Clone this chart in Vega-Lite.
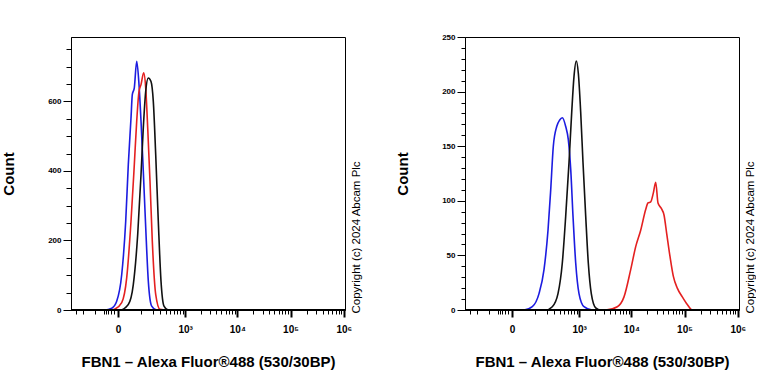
{
  "$schema": "https://vega.github.io/schema/vega-lite/v6.json",
  "padding": {"left": 0, "top": 32, "right": 0, "bottom": 0},
  "background": "white",
  "config": {
    "font": "Liberation Sans",
    "view": {"stroke": "black", "strokeWidth": 1},
    "concat": {"spacing": 32},
    "axis": {"domainColor": "black", "tickColor": "black", "labelColor": "black", "titleColor": "black", "grid": false, "labelFont": "Liberation Sans", "titleFont": "Liberation Sans"}
  },
  "datasets": {
    "left": [
      {"series": "blue", "x": -384, "count": 0}, {"series": "blue", "x": -44, "count": 0}, {"series": "blue", "x": -18, "count": 5}, {"series": "blue", "x": -3.4, "count": 25}, {"series": "blue", "x": 10.1, "count": 102}, {"series": "blue", "x": 22.9, "count": 255}, {"series": "blue", "x": 32.5, "count": 418}, {"series": "blue", "x": 43.7, "count": 552}, {"series": "blue", "x": 49.6, "count": 619}, {"series": "blue", "x": 59.3, "count": 639}, {"series": "blue", "x": 72.1, "count": 715}, {"series": "blue", "x": 85.7, "count": 648}, {"series": "blue", "x": 98.7, "count": 543}, {"series": "blue", "x": 115, "count": 399}, {"series": "blue", "x": 134, "count": 237}, {"series": "blue", "x": 156.8, "count": 83}, {"series": "blue", "x": 190.7, "count": 11}, {"series": "blue", "x": 250.7, "count": 0}, {"series": "blue", "x": 1053000, "count": 0},
      {"series": "red", "x": -384, "count": 0}, {"series": "red", "x": -20, "count": 0}, {"series": "red", "x": -8, "count": 3}, {"series": "red", "x": 10.1, "count": 21}, {"series": "red", "x": 26.5, "count": 93}, {"series": "red", "x": 43.7, "count": 255}, {"series": "red", "x": 59.3, "count": 418}, {"series": "red", "x": 72.1, "count": 543}, {"series": "red", "x": 85.7, "count": 629}, {"series": "red", "x": 98.7, "count": 648}, {"series": "red", "x": 118, "count": 682}, {"series": "red", "x": 134, "count": 638}, {"series": "red", "x": 151.2, "count": 524}, {"series": "red", "x": 173.1, "count": 370}, {"series": "red", "x": 197.2, "count": 198}, {"series": "red", "x": 237.6, "count": 45}, {"series": "red", "x": 298, "count": 2}, {"series": "red", "x": 417.5, "count": 0}, {"series": "red", "x": 1053000, "count": 0},
      {"series": "black", "x": -384, "count": 0}, {"series": "black", "x": 5.2, "count": 0}, {"series": "black", "x": 32.5, "count": 16}, {"series": "black", "x": 54.3, "count": 73}, {"series": "black", "x": 77.8, "count": 217}, {"series": "black", "x": 98.7, "count": 389}, {"series": "black", "x": 115, "count": 524}, {"series": "black", "x": 134, "count": 629}, {"series": "black", "x": 156.8, "count": 667}, {"series": "black", "x": 183.3, "count": 657}, {"series": "black", "x": 208.5, "count": 600}, {"series": "black", "x": 237.6, "count": 447}, {"series": "black", "x": 272.7, "count": 255}, {"series": "black", "x": 313.7, "count": 83}, {"series": "black", "x": 365.1, "count": 11}, {"series": "black", "x": 451.5, "count": 0}, {"series": "black", "x": 1053000, "count": 0}
    ],
    "right": [
      {"series": "blue", "x": -384, "count": 0}, {"series": "blue", "x": 39.4, "count": 0}, {"series": "blue", "x": 81.4, "count": 3}, {"series": "blue", "x": 128.2, "count": 15}, {"series": "blue", "x": 173.1, "count": 37}, {"series": "blue", "x": 216.7, "count": 73}, {"series": "blue", "x": 250.7, "count": 110}, {"series": "blue", "x": 287.5, "count": 150}, {"series": "blue", "x": 342.1, "count": 168}, {"series": "blue", "x": 397.4, "count": 174}, {"series": "blue", "x": 451.5, "count": 176}, {"series": "blue", "x": 532.1, "count": 168}, {"series": "blue", "x": 602.3, "count": 156}, {"series": "blue", "x": 674.4, "count": 129}, {"series": "blue", "x": 750.8, "count": 86}, {"series": "blue", "x": 851, "count": 43}, {"series": "blue", "x": 990.2, "count": 15}, {"series": "blue", "x": 1242.9, "count": 3}, {"series": "blue", "x": 1804, "count": 0}, {"series": "blue", "x": 1053000, "count": 0},
      {"series": "black", "x": -384, "count": 0}, {"series": "black", "x": 190.7, "count": 0}, {"series": "black", "x": 272.7, "count": 3}, {"series": "black", "x": 365.1, "count": 15}, {"series": "black", "x": 451.5, "count": 43}, {"series": "black", "x": 532.1, "count": 86}, {"series": "black", "x": 622.5, "count": 135}, {"series": "black", "x": 706.9, "count": 181}, {"series": "black", "x": 786.8, "count": 214}, {"series": "black", "x": 874.8, "count": 228}, {"series": "black", "x": 959.2, "count": 217}, {"series": "black", "x": 1070, "count": 181}, {"series": "black", "x": 1188, "count": 135}, {"series": "black", "x": 1342, "count": 86}, {"series": "black", "x": 1509, "count": 43}, {"series": "black", "x": 1725, "count": 15}, {"series": "black", "x": 2099, "count": 2}, {"series": "black", "x": 2619, "count": 0}, {"series": "black", "x": 1053000, "count": 0},
      {"series": "red", "x": -384, "count": 0}, {"series": "red", "x": 3264, "count": 0}, {"series": "red", "x": 5425, "count": 3}, {"series": "red", "x": 7268, "count": 12}, {"series": "red", "x": 9726, "count": 37}, {"series": "red", "x": 12087, "count": 58}, {"series": "red", "x": 15010, "count": 73}, {"series": "red", "x": 18641, "count": 92}, {"series": "red", "x": 20596, "count": 98}, {"series": "red", "x": 23160, "count": 99}, {"series": "red", "x": 25910, "count": 107}, {"series": "red", "x": 28756, "count": 117}, {"series": "red", "x": 31755, "count": 98}, {"series": "red", "x": 36633, "count": 93}, {"series": "red", "x": 41186, "count": 87}, {"series": "red", "x": 46278, "count": 70}, {"series": "red", "x": 53372, "count": 49}, {"series": "red", "x": 61561, "count": 31}, {"series": "red", "x": 73190, "count": 20}, {"series": "red", "x": 90845, "count": 12}, {"series": "red", "x": 112750, "count": 5}, {"series": "red", "x": 139950, "count": 0}, {"series": "red", "x": 1053000, "count": 0}
    ]
  },
  "hconcat": [
    {
      "width": 274,
      "height": 273,
      "data": {"name": "left"},
      "resolve": {"scale": {"y": "independent"}},
      "layer": [
        {
          "mark": {"type": "line", "strokeWidth": 1.6, "interpolate": "monotone", "clip": true},
          "encoding": {
            "x": {
              "field": "x", "type": "quantitative",
              "scale": {"type": "symlog", "constant": 58, "domain": [-384, 1053000], "nice": false, "zero": false},
              "axis": {
                "values": [-300, -200, -100, -50, -40, -30, -20, -10, 0, 100, 200, 300, 400, 500, 600, 700, 800, 900, 1000, 2000, 3000, 4000, 5000, 6000, 7000, 8000, 9000, 10000, 20000, 30000, 40000, 50000, 60000, 70000, 80000, 90000, 100000, 200000, 300000, 400000, 500000, 600000, 700000, 800000, 900000, 1000000],
                "labelExpr": "datum.value == 0 ? '0' : datum.value == 1000 ? '10³' : datum.value == 10000 ? '10⁴' : datum.value == 100000 ? '10⁵' : datum.value == 1000000 ? '10⁶' : ''",
                "tickSize": {"condition": {"test": "datum.value == 0 || datum.value == 1000 || datum.value == 10000 || datum.value == 100000 || datum.value == 1000000", "value": 7}, "value": 4},
                "tickWidth": {"condition": {"test": "datum.value == 0 || datum.value == 1000 || datum.value == 10000 || datum.value == 100000 || datum.value == 1000000", "value": 2}, "value": 1},
                "labelOverlap": false, "labelFlush": false, "labelFontSize": 10, "labelFontWeight": "bold", "labelPadding": 7,
                "title": "FBN1 – Alexa Fluor®488 (530/30BP)", "titleFontSize": 15, "titleFontWeight": "bold", "titleY": 51, "titleBaseline": "middle"
              }
            },
            "y": {
              "field": "count", "type": "quantitative",
              "scale": {"domain": [0, 785], "nice": false},
              "axis": {
                "values": [0, 50, 100, 150, 200, 250, 300, 350, 400, 450, 500, 550, 600, 650, 700, 750],
                "labelExpr": "datum.value % 200 == 0 ? datum.label : ''",
                "tickSize": {"condition": {"test": "datum.value % 200 == 0", "value": 8}, "value": 5},
                "labelFontSize": 8, "labelFontWeight": "bold", "labelPadding": 2,
                "title": "Count", "titleFontSize": 15, "titleFontWeight": "bold", "titleX": -63, "titleBaseline": "middle"
              }
            },
            "color": {"field": "series", "type": "nominal", "scale": {"domain": ["blue", "red", "black"], "range": ["#1c1ce0", "#e42020", "#111111"]}, "legend": null}
          }
        },
        {
          "mark": {"type": "rule", "color": "black", "strokeWidth": 1},
          "encoding": {
            "y": {
              "datum": 0, "type": "quantitative",
              "scale": {"domain": [0, 785], "nice": false},
              "axis": {"orient": "right", "domain": false, "ticks": false, "labels": false, "title": "Copyright (c) 2024 Abcam Plc", "titleFontSize": 11.5, "titleFontWeight": "normal", "titleAngle": 270, "titleAlign": "left", "titleBaseline": "middle", "titleX": 11, "titleY": 276}
            }
          }
        }
      ]
    },
    {
      "width": 274,
      "height": 273,
      "data": {"name": "right"},
      "resolve": {"scale": {"y": "independent"}},
      "layer": [
        {
          "mark": {"type": "line", "strokeWidth": 1.6, "interpolate": "monotone", "clip": true},
          "encoding": {
            "x": {
              "field": "x", "type": "quantitative",
              "scale": {"type": "symlog", "constant": 58, "domain": [-384, 1053000], "nice": false, "zero": false},
              "axis": {
                "values": [-300, -200, -100, -50, -40, -30, -20, -10, 0, 100, 200, 300, 400, 500, 600, 700, 800, 900, 1000, 2000, 3000, 4000, 5000, 6000, 7000, 8000, 9000, 10000, 20000, 30000, 40000, 50000, 60000, 70000, 80000, 90000, 100000, 200000, 300000, 400000, 500000, 600000, 700000, 800000, 900000, 1000000],
                "labelExpr": "datum.value == 0 ? '0' : datum.value == 1000 ? '10³' : datum.value == 10000 ? '10⁴' : datum.value == 100000 ? '10⁵' : datum.value == 1000000 ? '10⁶' : ''",
                "tickSize": {"condition": {"test": "datum.value == 0 || datum.value == 1000 || datum.value == 10000 || datum.value == 100000 || datum.value == 1000000", "value": 7}, "value": 4},
                "tickWidth": {"condition": {"test": "datum.value == 0 || datum.value == 1000 || datum.value == 10000 || datum.value == 100000 || datum.value == 1000000", "value": 2}, "value": 1},
                "labelOverlap": false, "labelFlush": false, "labelFontSize": 10, "labelFontWeight": "bold", "labelPadding": 7,
                "title": "FBN1 – Alexa Fluor®488 (530/30BP)", "titleFontSize": 15, "titleFontWeight": "bold", "titleY": 51, "titleBaseline": "middle"
              }
            },
            "y": {
              "field": "count", "type": "quantitative",
              "scale": {"domain": [0, 250], "nice": false},
              "axis": {
                "values": [0, 10, 20, 30, 40, 50, 60, 70, 80, 90, 100, 110, 120, 130, 140, 150, 160, 170, 180, 190, 200, 210, 220, 230, 240, 250],
                "labelExpr": "datum.value % 50 == 0 ? datum.label : ''",
                "tickSize": {"condition": {"test": "datum.value % 50 == 0", "value": 8}, "value": 4},
                "labelFontSize": 8, "labelFontWeight": "bold", "labelPadding": 2,
                "title": "Count", "titleFontSize": 15, "titleFontWeight": "bold", "titleX": -63, "titleBaseline": "middle"
              }
            },
            "color": {"field": "series", "type": "nominal", "scale": {"domain": ["blue", "red", "black"], "range": ["#1c1ce0", "#e42020", "#111111"]}, "legend": null}
          }
        },
        {
          "mark": {"type": "rule", "color": "black", "strokeWidth": 1},
          "encoding": {
            "y": {
              "datum": 0, "type": "quantitative",
              "scale": {"domain": [0, 250], "nice": false},
              "axis": {"orient": "right", "domain": false, "ticks": false, "labels": false, "title": "Copyright (c) 2024 Abcam Plc", "titleFontSize": 11.5, "titleFontWeight": "normal", "titleAngle": 270, "titleAlign": "left", "titleBaseline": "middle", "titleX": 11, "titleY": 276}
            }
          }
        }
      ]
    }
  ]
}
